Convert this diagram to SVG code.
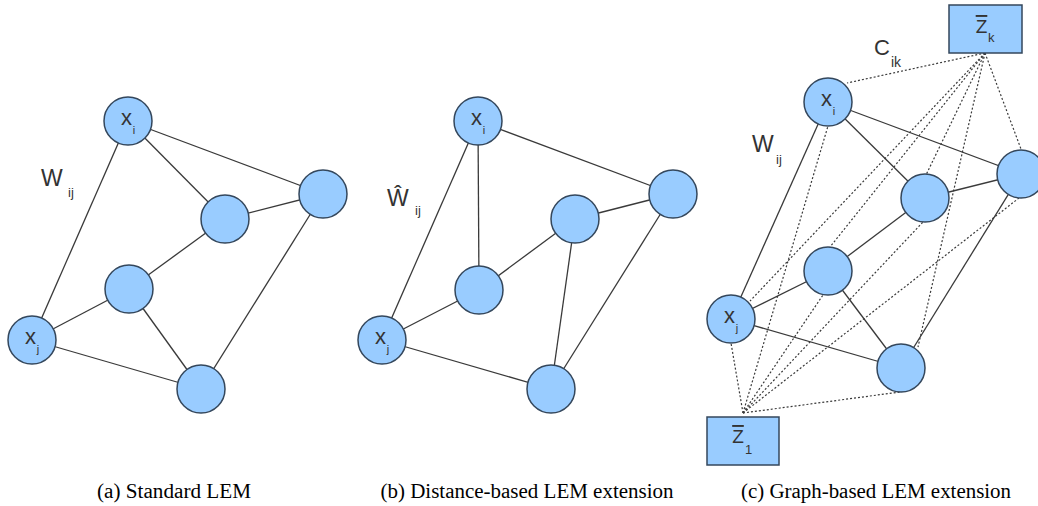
<svg xmlns="http://www.w3.org/2000/svg" width="1038" height="506" viewBox="0 0 1038 506">
<style>
.n{fill:#99ccff;stroke:#34475c;stroke-width:1.5}
.e{stroke:#3a3a3a;stroke-width:1.3;fill:none}
.d{stroke:#3a3a3a;stroke-width:1.2;stroke-dasharray:2 2;fill:none}
.t{font-family:"Liberation Sans",Arial,sans-serif;fill:#333}
.lx{font-size:22px;text-anchor:middle}
.ls{font-size:11px;text-anchor:middle}
.lw{font-size:23px}
.lws{font-size:13px}
.cap{font-family:"Liberation Serif","Times New Roman",serif;font-size:20px;fill:#000;text-anchor:middle}
</style>
<rect width="1038" height="506" fill="#fff"/>
<g id="connectors">
  <!-- panel a -->
  <line class="e" x1="128" y1="121" x2="323" y2="194"/>
  <line class="e" x1="128" y1="121" x2="225" y2="219"/>
  <line class="e" x1="128" y1="121" x2="32" y2="340"/>
  <line class="e" x1="225" y1="219" x2="323" y2="194"/>
  <line class="e" x1="225" y1="219" x2="129" y2="289"/>
  <line class="e" x1="129" y1="289" x2="32" y2="340"/>
  <line class="e" x1="129" y1="289" x2="201" y2="389"/>
  <line class="e" x1="32" y1="340" x2="201" y2="389"/>
  <line class="e" x1="323" y1="194" x2="201" y2="389"/>
  <!-- panel b -->
  <line class="e" x1="478" y1="121" x2="673" y2="194"/>
  <line class="e" x1="478" y1="121" x2="479" y2="290"/>
  <line class="e" x1="478" y1="121" x2="382" y2="340"/>
  <line class="e" x1="575" y1="219" x2="673" y2="194"/>
  <line class="e" x1="575" y1="219" x2="479" y2="290"/>
  <line class="e" x1="575" y1="219" x2="551" y2="389"/>
  <line class="e" x1="479" y1="290" x2="382" y2="340"/>
  <line class="e" x1="382" y1="340" x2="551" y2="389"/>
  <line class="e" x1="673" y1="194" x2="551" y2="389"/>
  <!-- panel c dotted -->
  <line class="d" x1="985" y1="53" x2="847" y2="83"/>
  <line class="d" x1="985" y1="53" x2="1021" y2="149"/>
  <line class="d" x1="985" y1="53" x2="926" y2="175"/>
  <line class="d" x1="985" y1="53" x2="830" y2="247"/>
  <line class="d" x1="985" y1="53" x2="750" y2="301"/>
  <line class="d" x1="985" y1="53" x2="918" y2="347"/>
  <line class="d" x1="743" y1="413" x2="731" y2="343"/>
  <line class="d" x1="743" y1="413" x2="828" y2="126"/>
  <line class="d" x1="743" y1="413" x2="923" y2="222"/>
  <line class="d" x1="743" y1="413" x2="1019" y2="198"/>
  <line class="d" x1="743" y1="413" x2="823" y2="295"/>
  <line class="d" x1="743" y1="413" x2="900" y2="392"/>
  <!-- panel c solid -->
  <line class="e" x1="828" y1="102" x2="1021" y2="174"/>
  <line class="e" x1="828" y1="102" x2="925" y2="198"/>
  <line class="e" x1="828" y1="102" x2="731" y2="319"/>
  <line class="e" x1="925" y1="198" x2="1021" y2="174"/>
  <line class="e" x1="925" y1="198" x2="828" y2="271"/>
  <line class="e" x1="828" y1="271" x2="731" y2="319"/>
  <line class="e" x1="828" y1="271" x2="901" y2="368"/>
  <line class="e" x1="731" y1="319" x2="901" y2="368"/>
  <line class="e" x1="1021" y1="174" x2="901" y2="368"/>
</g>
<!-- panel a nodes -->
<g id="a-xi"><circle class="n" cx="128" cy="121" r="24"/><text class="t lx" x="126.5" y="125">x</text><text class="t ls" x="134" y="134">i</text></g>
<g id="a-right"><circle class="n" cx="323" cy="194" r="24"/></g>
<g id="a-mu"><circle class="n" cx="225" cy="219" r="24"/></g>
<g id="a-ml"><circle class="n" cx="129" cy="289" r="24"/></g>
<g id="a-xj"><circle class="n" cx="32" cy="340" r="24"/><text class="t lx" x="30.5" y="344">x</text><text class="t ls" x="38" y="353">j</text></g>
<g id="a-bot"><circle class="n" cx="201" cy="389" r="24"/></g>
<g id="a-w"><text class="t lw" x="41" y="186">W</text><text class="t lws" x="68" y="197">ij</text></g>
<!-- panel b nodes -->
<g id="b-xi"><circle class="n" cx="478" cy="121" r="24"/><text class="t lx" x="476.5" y="125">x</text><text class="t ls" x="484" y="134">i</text></g>
<g id="b-right"><circle class="n" cx="673" cy="194" r="24"/></g>
<g id="b-mu"><circle class="n" cx="575" cy="219" r="24"/></g>
<g id="b-ml"><circle class="n" cx="479" cy="290" r="24"/></g>
<g id="b-xj"><circle class="n" cx="382" cy="340" r="24"/><text class="t lx" x="380.5" y="344">x</text><text class="t ls" x="388" y="353">j</text></g>
<g id="b-bot"><circle class="n" cx="551" cy="389" r="24"/></g>
<g id="b-w"><text class="t lw" x="387" y="206">Ŵ</text><text class="t lws" x="415" y="215">ij</text></g>
<!-- panel c nodes -->
<g id="c-xi"><circle class="n" cx="828" cy="102" r="24"/><text class="t lx" x="826.5" y="106">x</text><text class="t ls" x="834" y="115">i</text></g>
<g id="c-right"><circle class="n" cx="1021" cy="174" r="24"/></g>
<g id="c-mu"><circle class="n" cx="925" cy="198" r="24"/></g>
<g id="c-ml"><circle class="n" cx="828" cy="271" r="24"/></g>
<g id="c-xj"><circle class="n" cx="731" cy="319" r="24"/><text class="t lx" x="729.5" y="323">x</text><text class="t ls" x="737" y="332">j</text></g>
<g id="c-bot"><circle class="n" cx="901" cy="368" r="24"/></g>
<g id="c-zk"><rect class="n" x="949" y="5" width="73" height="48"/><text class="t" font-size="19" text-anchor="middle" x="981.5" y="33" text-decoration="overline">Z</text><text class="t" font-size="13" x="988" y="42">k</text></g>
<g id="c-z1"><rect class="n" x="707" y="417" width="72" height="48"/><text class="t" font-size="19" text-anchor="middle" x="738" y="443" text-decoration="overline">Z</text><text class="t" font-size="13" x="745" y="454">1</text></g>
<g id="c-w"><text class="t lw" x="752" y="152">W</text><text class="t lws" x="776" y="164">ij</text></g>
<g id="c-c"><text class="t" font-size="22" x="874" y="55">C</text><text class="t" font-size="14" x="891" y="67">ik</text></g>
<!-- captions -->
<text class="cap" x="174" y="498" textLength="154" lengthAdjust="spacingAndGlyphs">(a) Standard LEM</text>
<text class="cap" x="527" y="498" textLength="293" lengthAdjust="spacingAndGlyphs">(b) Distance-based LEM extension</text>
<text class="cap" x="876" y="498" textLength="270" lengthAdjust="spacingAndGlyphs">(c) Graph-based LEM extension</text>
</svg>
